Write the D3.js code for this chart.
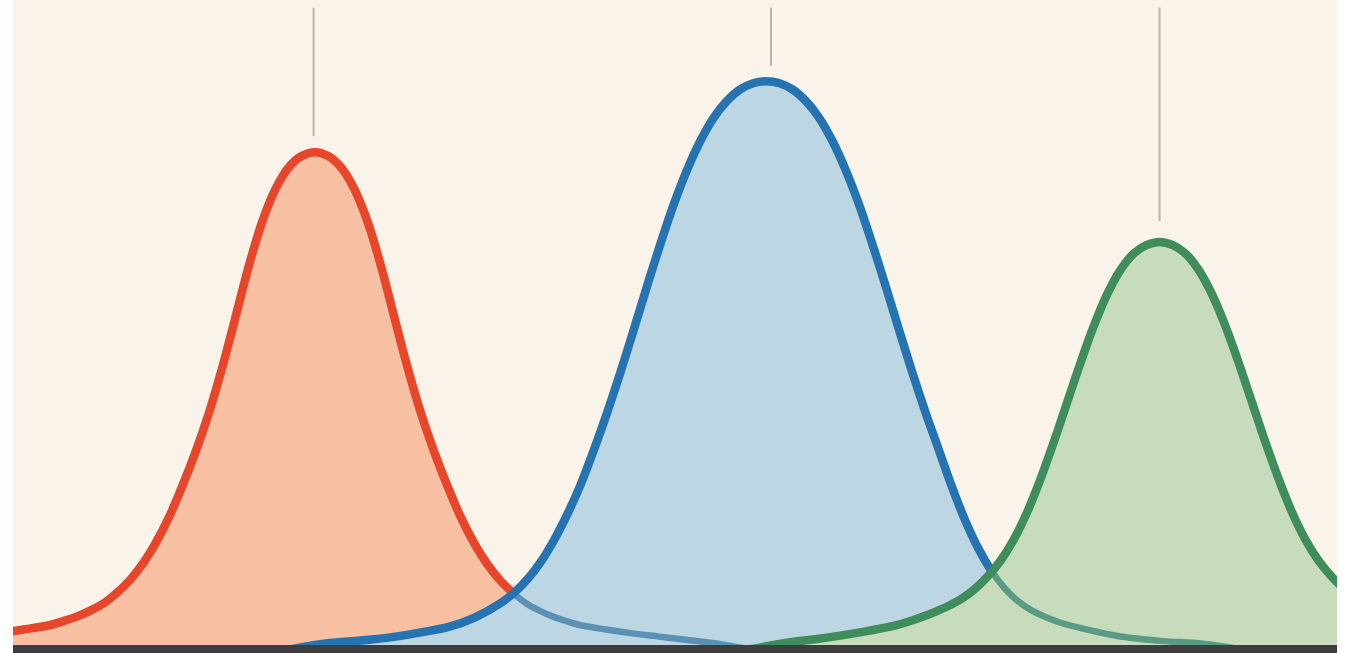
<!DOCTYPE html>
<html>
<head>
<meta charset="utf-8">
<script src="https://cdn.jsdelivr.net/npm/d3@7"></script>
<style>
  html, body { margin: 0; padding: 0; background: #ffffff; }
  svg { display: block; }
</style>
</head>
<body>
<div id="chart"></div>
<script>
// curve samples (x: 0..100 across the panel, y: 0..100 of panel height)
// last point of each tail sits inside the dark base bar
const redX = [-1.2, 0.8, 2.8, 3.8, 4.8, 5.8, 6.8, 7.8, 8.8, 9.8, 10.8, 11.8, 12.8, 13.8, 14.8, 15.8, 16.8, 17.8, 18.8, 19.8, 20.8, 21.8, 22.8,
  23.8, 24.8, 25.8, 26.8, 27.8, 28.8, 29.8, 30.8, 31.8, 32.8, 33.8, 34.8, 35.8, 36.8, 37.8, 38.8, 39.8, 40.8, 41.8, 42.8, 44.8, 46.8, 48.8, 50.8, 52.8, 55.8]
const redY = [1.8, 2.4, 3.1, 3.7, 4.4, 5.3, 6.4, 8.0, 10.0, 12.6, 15.9, 19.9, 24.7, 30.0, 36.0, 43.0, 50.8, 58.7, 65.5, 70.6, 74.0, 75.8, 76.4,
  75.8, 74.0, 70.6, 65.5, 58.7, 50.8, 43.0, 36.0, 30.0, 24.7, 19.9, 15.9, 12.6, 10.0, 8.0, 6.4, 5.3, 4.4, 3.7, 3.1, 2.4, 1.8, 1.3, 0.8, 0.3, -0.7]

const blueX = [20.9, 23.9, 26.9, 28.9, 30.9, 32.9, 34.9, 36.9, 37.9, 38.9, 39.9, 40.9, 41.9, 42.9, 43.9, 44.9, 45.9, 46.9, 47.9, 48.9, 49.9, 50.9, 51.9, 52.9, 53.9, 54.9, 55.9, 56.9,
  57.9, 58.9, 59.9, 60.9, 61.9, 62.9, 63.9, 64.9, 65.9, 66.9, 67.9, 68.9, 69.9, 70.9, 71.9, 72.9, 73.9, 74.9, 75.9, 76.9, 78.9, 80.9, 82.9, 84.9, 86.9, 89.9, 92.9]
const blueY = [-0.7, 0.3, 0.8, 1.3, 2.0, 2.8, 4.3, 6.6, 8.2, 10.3, 13.0, 16.4, 20.4, 25.0, 30.4, 36.2, 42.4, 49.0, 55.7, 62.2, 68.3, 73.6, 78.1, 81.7, 84.3, 86.1, 87.1, 87.4,
  87.1, 86.1, 84.3, 81.7, 78.1, 73.6, 68.3, 62.2, 55.7, 49.0, 42.4, 36.2, 30.4, 24.6, 19.4, 15.0, 11.5, 8.8, 6.8, 5.4, 3.6, 2.5, 1.6, 1.0, 0.6, 0.2, -0.7]

const greenX = [55.6, 58.6, 60.6, 62.6, 64.6, 66.6, 67.6, 68.6, 69.6, 70.6, 71.6, 72.6, 73.6, 74.6, 75.6, 76.6, 77.6, 78.6, 79.6, 80.6, 81.6, 82.6, 83.6, 84.6, 85.6, 86.6,
  87.6, 88.6, 89.6, 90.6, 91.6, 92.6, 93.6, 94.6, 95.6, 96.6, 97.6, 98.6, 99.6, 100.6, 101.6]
const greenY = [-0.7, 0.4, 0.9, 1.5, 2.2, 3.0, 3.6, 4.3, 5.1, 6.0, 7.1, 8.6, 10.6, 13.1, 16.4, 20.6, 25.7, 31.4, 37.5, 43.6, 49.3, 54.2, 58.0, 60.6, 62.0, 62.5,
  62.0, 60.6, 58.0, 54.2, 49.3, 43.6, 37.5, 31.4, 25.7, 20.6, 16.4, 13.1, 10.6, 8.6, 7.1]

// grey marker lines above each peak
const markerX = [22.7, 57.25, 86.6]
const markerTop = [98.8, 98.8, 98.8]
const markerEnd = [78.9, 89.8, 65.7]

const W = 1352, H = 653
const plot = {left: 13, right: 1337, top: 0, bottom: 645}

const xScale = d3.scaleLinear().domain([0, 100]).range([plot.left, plot.right])
const yScale = d3.scaleLinear().domain([0, 100]).range([plot.bottom, plot.top])

const series = [
  {id: "red", xs: redX, ys: redY, stroke: "#e8462b", fill: "#f7c0a3", ghost: null},
  {id: "blue", xs: blueX, ys: blueY, stroke: "#2574b1", fill: "#bcd6e4", ghost: "#5b91b4"},
  {id: "green", xs: greenX, ys: greenY, stroke: "#3f8c5c", fill: "#c6dcbd", ghost: "#5b9b86"}
]
series.forEach(s => { s.pts = s.xs.map((x, i) => [x, s.ys[i]]) })

const svg = d3.select("#chart").append("svg")
  .attr("width", W)
  .attr("height", H)

svg.append("rect").attr("width", W).attr("height", H).attr("fill", "#ffffff")
svg.append("rect")
  .attr("x", plot.left).attr("y", 0)
  .attr("width", plot.right - plot.left).attr("height", plot.bottom)
  .attr("fill", "#f9f3e9")

const defs = svg.append("defs")
defs.append("clipPath").attr("id", "plotClip")
  .append("rect")
  .attr("x", plot.left).attr("y", 0)
  .attr("width", plot.right - plot.left).attr("height", plot.bottom)

const area = d3.area()
  .x(d => xScale(d[0]))
  .y0(yScale(0))
  .y1(d => yScale(d[1]))
  .curve(d3.curveCatmullRom.alpha(0.5))

const line = d3.line()
  .x(d => xScale(d[0]))
  .y(d => yScale(d[1]))
  .curve(d3.curveCatmullRom.alpha(0.5))

// area-shaped clips, used to tint the curve that passes beneath a fill
series.forEach(s => {
  defs.append("clipPath").attr("id", "under-" + s.id)
    .append("path").attr("d", area(s.pts))
})

const body = svg.append("g").attr("clip-path", "url(#plotClip)")

// grey markers
body.selectAll("line.marker")
  .data(markerX)
  .enter()
  .append("line")
  .attr("class", "marker")
  .attr("x1", d => xScale(d))
  .attr("x2", d => xScale(d))
  .attr("y1", (d, i) => yScale(markerTop[i]))
  .attr("y2", (d, i) => yScale(markerEnd[i]))
  .attr("stroke", "#b7b6ae")
  .attr("stroke-width", 2)

series.forEach((s, i) => {
  body.append("path")
    .attr("d", area(s.pts))
    .attr("fill", s.fill)

  // previous curve showing faintly through this fill
  if (i > 0) {
    body.append("g")
      .attr("clip-path", "url(#under-" + s.id + ")")
      .append("path")
      .attr("d", line(series[i - 1].pts))
      .attr("fill", "none")
      .attr("stroke", s.ghost)
      .attr("stroke-width", 6.5)
  }
})

// strokes: each one hidden where the next area covers it
series.forEach((s, i) => {
  const g = body.append("g")
  if (i < series.length - 1) {
    const maskId = "mask-" + s.id
    const m = defs.append("mask").attr("id", maskId)
    m.append("rect").attr("width", W).attr("height", H).attr("fill", "white")
    m.append("path").attr("d", area(series[i + 1].pts)).attr("fill", "black")
    g.attr("mask", "url(#" + maskId + ")")
  }
  g.append("path")
    .attr("d", line(s.pts))
    .attr("fill", "none")
    .attr("stroke", s.stroke)
    .attr("stroke-width", 8.5)
    .attr("stroke-linejoin", "round")
})

// dark base bar
svg.append("rect")
  .attr("x", plot.left).attr("y", plot.bottom)
  .attr("width", plot.right - plot.left).attr("height", H - plot.bottom)
  .attr("fill", "#3d3d3d")
</script>
</body>
</html>
